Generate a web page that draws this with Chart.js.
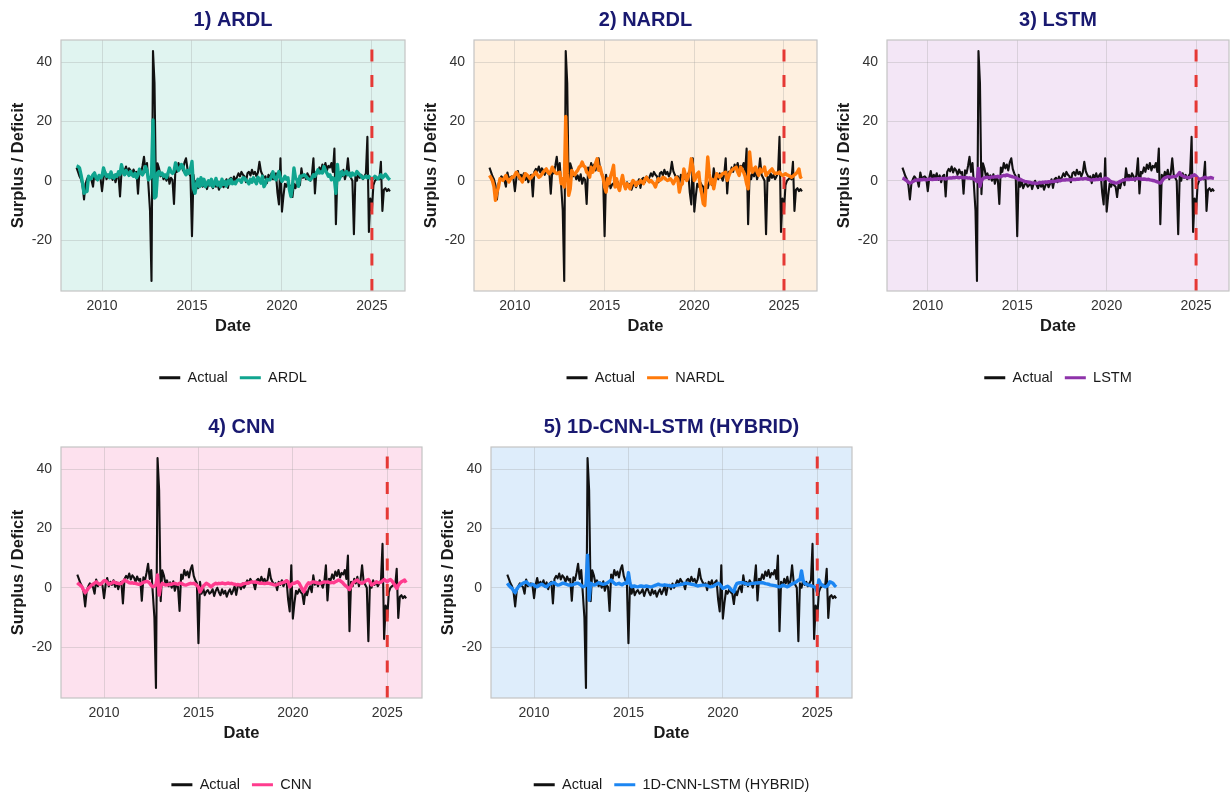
<!DOCTYPE html>
<html>
<head>
<meta charset="utf-8">
<script src="https://cdn.jsdelivr.net/npm/chart.js@4.4.1/dist/chart.umd.min.js"></script>
<style>
  html, body { margin: 0; padding: 0; background: #fff; overflow: hidden; }
  #page { position: relative; width: 1230px; height: 794px; overflow: hidden; }
  #page canvas { position: absolute; }
</style>
</head>
<body>
<div id="page"></div>
<script>
// monthly observations, first one is Jul 2008 (plotted at month end)
const firstYear = 2008
const firstMonth = 7
const cutoffYear = 2025.0

const xTicks = [2010, 2015, 2020, 2025]
const yTicks = [-20, 0, 20, 40]
const xRange = [2007.72, 2026.84]
const yRange = [-37.2, 47.5]

const actual = [
  4.4, 3.0, 1.5, 0.5, -1.5, -6.3,
  -1.0, 0.5, 1.5, 0.8, 0.2, -2.0, 2.8, 0.5, 1.2, 1.5, 0.8, -3.5,
  1.0, 3.3, 0.5, 2.0, 1.0, 2.5, 0.3, 1.8, -0.5, 1.5, 2.0, -5.3,
  3.0, 4.0, 3.2, 4.8, 2.8, 4.2, 3.5, 2.0, 3.8, 2.5, 3.0, -4.4,
  3.5, 2.5, 5.0, 8.1, 3.0, 6.0, -1.9, -10.0, -33.8, 43.8, 33.0, -4.5,
  5.9, 4.2, 1.5, 2.5, 0.5, 1.8, 0.0, 2.2, -1.0, 1.0, 0.3, -7.8,
  4.5, 3.0, 6.0, 4.2, 5.5, 3.5, 6.2, 7.6, 4.0, 2.5, 1.5, -18.7,
  2.0, -2.0, 0.0, -2.5, -1.3, -0.8, -2.0, -1.5, -0.5, -2.8, -1.0, 0.0,
  -1.5, -2.5, -0.5, -2.0, -1.0, -3.0, -1.5, -0.5, -2.2, -1.0, 0.5, -2.4,
  0.5, 1.0, -0.5, 1.4, 0.0, 1.2, 2.5, 1.5, 3.0, 2.0, 1.5, -0.5,
  2.5, 3.0, 1.8, 3.7, 2.2, 3.0, 1.5, 2.8, 6.4, 3.2, 2.0, 1.0,
  1.5, -0.8, 2.0, 1.0, 2.5, 0.5, 1.8, 2.5, -4.0, -8.0, 7.6, -10.4,
  -5.2, -1.0, -2.0, -0.5, -1.5, -2.0, -5.5, -1.0, -2.5, -0.5, 0.5, -1.5,
  4.2, 1.0, 2.0, 0.5, 2.5, 1.5, 0.0, 2.0, 7.6, -4.3, 3.0, 2.5,
  4.5, 3.0, 5.5, 4.0, 6.0, 3.5, 5.0, 4.5, 6.0, 3.0, 10.9, -14.7,
  2.0, 0.5, 3.0, 1.5, 3.7, 0.5, 2.5, 7.6, 2.0, 1.0, 0.0, -18.0,
  1.5, 0.0, 2.5, 1.0, 2.0, 0.5, 1.5, 2.5, 14.8, -17.3, -6.0, -10.0,
  -1.5, 0.0, 0.5, 1.0, 0.5, 6.4, -10.2, -3.0, -2.5, -3.5, -2.8, -3.6
]

const ardl = [
  5.0, 4.8, 4.3, 2.0, -0.8, -4.2,
  -3.8, -3.6, 1.5, 0.5, 1.0, 2.0, 2.6, 1.0, 0.3, 1.8, 1.0, 1.5,
  4.3, 2.5, 1.5, 2.0, 1.0, 3.0, 1.2, 0.9, 2.0, 1.5, 3.0, 2.2,
  5.4, 3.0, 2.0, 3.5, 2.6, 1.8, 3.1, 2.0, 1.5, 2.5, 1.0, 2.0,
  3.9, 2.5, 2.0, 3.0, 4.8, 3.5, 0.3, 0.9, 1.5, 20.5, -5.8, -5.3,
  2.6, 3.1, 2.0, 2.6, 1.5, 2.0, 1.0, 2.5, 4.3, 3.0, 2.5, 3.1,
  6.0, 4.5, 3.5, 4.3, 5.5, 4.8, 3.0, 2.0, 3.5, 2.5, 4.0, 6.5,
  -2.5, -4.2, -1.0, 0.5, -2.0, 1.0, -1.5, 0.5, -2.0, -1.0, 0.0, -1.5,
  0.5, -2.0, -1.0, 0.8, -1.5, -0.5, -2.0, 0.5, -1.2, -0.3, -1.8, 0.0,
  -1.0, 0.5, -1.0, -0.5, -1.0, 0.0, 0.3, 0.3, -0.5, 1.0, 0.9, 0.2,
  -0.2, -1.0, 0.5, -0.5, 1.0, 0.0, -1.0, 1.2, 0.5, -0.8, 1.5, -2.0,
  -1.0, 0.5, 0.3, 0.3, 1.5, 3.0, 1.0, 0.3, 1.5, 3.1, 1.0, -0.2,
  0.5, 1.5, 0.5, 1.0, -3.0, -5.3, -2.0, 4.3, 1.0, 0.3, -1.9, 1.5,
  1.5, 1.8, 2.0, 1.5, 0.9, 0.5, 0.3, 1.0, 2.0, 1.5, 2.5, 3.7,
  2.6, 3.0, 2.6, 4.8, 3.5, 2.6, 1.5, 2.0, 0.3, 1.0, 0.5, -4.2,
  5.5, 0.3, 1.5, 3.1, 2.0, 2.5, 3.1, 2.0, 2.6, 1.5, 2.6, 2.0,
  2.0, 3.1, 2.5, 2.0, 1.5, 0.9, 1.2, 1.5, 1.0, 1.5, 0.9, 0.5,
  0.9, 1.5, 1.0, 0.6, 1.2, 2.0, 1.0, 1.5, 2.2, 1.5, 0.8, 0.3
]

const nardl = [
  1.8, 1.0, 0.0, -2.0, -6.6, -3.8,
  -2.1, 0.7, 0.5, 0.1, 1.0, 1.8, 0.5, -0.4, 0.5, 1.2, 1.2, 2.0,
  2.9, 2.0, 1.2, 0.5, -0.4, 1.0, 2.4, 2.0, 1.5, 0.7, 1.2, 1.8,
  2.2, 2.9, 2.0, 1.2, 1.5, 2.2, 2.9, 3.5, 4.0, 3.0, 2.4, 3.0,
  4.6, 3.5, 2.8, 2.4, 2.6, 2.9, -1.0, 0.7, -2.1, 21.7, 2.4, -4.9,
  -2.7, 3.5, 2.4, 2.0, 2.9, 3.5, 4.6, 5.0, 6.3, 5.0, 4.6, 2.9,
  2.5, 1.2, 4.6, 2.9, 4.0, 6.0, 7.4, 3.5, 4.6, 2.4, 1.0, -2.1,
  -3.8, 0.7, -1.0, 1.5, 3.0, 5.2, -2.1, 0.7, -2.1, -3.3, -0.4, 1.8,
  -1.0, -2.7, -1.0, -1.5, -2.7, -1.0, 0.1, -0.5, -1.6, -0.5, -0.8, 0.1,
  -0.4, -1.0, 0.5, 1.2, 0.3, -0.4, 0.1, -0.5, -1.0, -2.1, -0.5, 0.7,
  0.1, 0.5, 1.2, 1.0, 0.5, 0.1, 0.3, 0.7, 0.0, -1.0, 0.0, 1.2,
  0.5, -3.8, -1.5, -1.0, 4.0, 2.0, 0.1, 1.5, 3.5, 7.4, 4.6, 0.1,
  1.0, 2.4, 2.9, -2.1, -4.4, -7.7, -8.3, 0.1, 8.0, 2.4, -1.0, 0.5,
  -2.7, 0.1, 2.4, 1.8, 1.2, 1.8, 2.4, 2.6, 2.9, 0.1, 1.5, 2.9,
  3.5, 4.0, 4.2, 4.6, 3.0, 1.8, 4.6, 3.8, 2.9, 1.5, -1.0, -2.7,
  9.7, 4.6, 2.9, 4.0, 4.6, 3.0, 1.8, 4.0, 3.0, 3.5, 4.6, 1.8,
  2.5, 2.9, 3.5, 4.0, 3.0, 2.4, 2.6, 2.5, 2.9, 2.2, 1.8, 2.0,
  2.4, 2.0, 1.8, 1.5, 1.2, 1.5, 2.0, 2.4, 3.0, 4.0, 1.2, 1.5
]

const lstm = [
  0.9, 0.7, 0.3, 0.0, -0.5, -0.8,
  -0.6, -0.3, 0.0, 0.2, 0.3, 0.2, 0.4, 0.3, 0.5, 0.4, 0.3, 0.5,
  0.5, 0.6, 0.4, 0.5, 0.6, 0.5, 0.7, 0.6, 0.8, 0.7, 0.8, 0.6,
  0.8, 0.9, 1.0, 0.9, 1.1, 1.0, 1.2, 1.1, 1.0, 1.2, 1.1, 1.0,
  1.0, 1.1, 0.9, 1.0, 0.8, 0.9, 0.6, 0.2, -0.3, 4.2, -1.9, 0.0,
  0.8, 1.0, 1.1, 1.2, 1.0, 1.1, 1.3, 1.2, 1.4, 1.3, 1.5, 1.2,
  1.4, 1.6, 1.8, 1.7, 2.0, 1.8, 1.6, 1.5, 1.3, 1.2, 1.0, 0.8,
  0.3, 0.5, 0.2, 0.0, -0.2, -0.3, -0.4, -0.5, -0.6, -0.8, -0.7, -0.8,
  -0.9, -0.8, -0.6, -0.7, -0.5, -0.6, -0.4, -0.5, -0.3, -0.4, -0.2, -0.3,
  -0.2, -0.1, 0.0, 0.1, 0.0, 0.2, 0.3, 0.2, 0.4, 0.3, 0.4, 0.3,
  0.4, 0.5, 0.4, 0.6, 0.5, 0.6, 0.7, 0.6, 0.7, 0.8, 0.6, 0.5,
  0.3, 0.2, 0.4, 0.3, 0.5, 0.4, 0.5, 0.6, 0.4, 0.5, 0.9, 0.8,
  0.5, 0.0, -0.3, -0.5, -0.6, -0.8, -0.7, -0.5, -0.2, 0.0, 0.2, 0.3,
  0.4, 0.5, 0.4, 0.6, 0.5, 0.5, 0.6, 0.7, 0.8, 0.7, 0.6, 0.5,
  0.6, 0.5, 0.4, 0.5, 0.3, 0.2, 0.1, 0.0, -0.2, -0.4, -0.6, -0.8,
  -0.2, 0.6, 1.0, 1.2, 1.4, 1.3, 1.2, 1.3, 1.4, 1.5, 1.6, 2.2,
  2.8, 2.0, 1.6, 1.4, 1.2, 1.1, 1.0, 1.2, 1.5, 1.8, 2.0, 1.6,
  1.0, 0.6, 0.5, 0.7, 0.9, 1.2, 1.0, 0.9, 1.0, 1.1, 0.9, 0.8
]

const cnn = [
  1.7, 1.2, 0.8, 0.3, -0.8, -1.7,
  -1.0, -0.2, 0.3, 0.9, 1.2, 1.6, 2.0, 1.6, 1.2, 1.2, 1.8, 2.4,
  2.4, 1.8, 1.2, 1.4, 1.6, 2.0, 1.8, 1.5, 1.5, 1.3, 1.5, 2.0,
  2.6, 2.3, 2.0, 1.7, 1.6, 1.7, 1.5, 1.5, 1.3, 1.2, 1.2, 1.5,
  1.8, 2.0, 2.2, 2.0, 1.5, 0.8, 0.3, 0.5, 1.0, 4.3, -2.5, 0.5,
  1.5, 1.2, 0.9, 1.0, 1.1, 1.2, 1.2, 1.4, 1.5, 1.3, 1.2, 1.5,
  1.5, 1.2, 1.0, 0.9, 1.1, 1.3, 1.5, 1.4, 1.5, 1.2, 0.8, 0.3,
  -1.4, -0.5, 0.6, 1.0, 1.5, 1.2, 0.8, 0.3, 0.8, 1.2, 1.5, 1.3,
  1.5, 1.4, 1.6, 1.5, 1.3, 1.5, 1.6, 1.4, 1.5, 1.3, 1.2, 1.0,
  1.1, 1.0, 0.9, 1.2, 1.4, 1.5, 1.5, 1.7, 1.8, 2.0, 1.9, 2.0,
  1.8, 1.7, 1.5, 1.6, 1.5, 1.4, 1.5, 1.6, 1.5, 1.3, 1.2, 1.0,
  0.9, 1.1, 1.3, 1.5, 1.6, 1.8, 2.0, 2.4, 2.0, 0.3, 1.0, 1.5,
  1.5, 1.8, 2.0, 1.5, 0.5, -0.5, -1.4, 0.0, 1.0, 1.7, 1.5, 1.8,
  2.0, 1.9, 1.7, 1.6, 1.5, 1.6, 1.8, 2.0, 1.9, 2.0, 1.8, 1.7,
  1.8, 1.7, 2.0, 2.3, 2.6, 2.4, 2.0, 1.5, 0.9, 0.5, 0.0, -0.6,
  0.5, 1.5, 2.0, 2.4, 2.6, 2.0, 1.7, 1.5, 1.8, 2.2, 2.5, 2.8,
  2.0, 0.9, 1.2, 1.6, 2.0, 1.8, 1.7, 1.9, 2.3, 2.8, 2.4, 2.0,
  2.5, 2.8, 2.3, 1.5, 0.8, -0.2, 0.8, 1.5, 2.0, 2.3, 2.6, 1.7
]

const hybrid = [
  1.5, 0.8, 0.2, -0.2, -1.0, -1.7,
  -0.5, 0.3, 0.8, 1.2, 1.5, 1.8, 2.0, 1.5, 1.0, 0.9, 1.2, 0.9,
  0.5, 0.3, 0.8, 1.0, 1.2, 0.8, 0.5, 0.3, 0.9, 1.2, 1.5, 1.7,
  1.7, 1.2, 0.9, 1.0, 1.2, 1.5, 1.5, 1.3, 1.1, 0.9, 1.0, 0.9,
  1.1, 1.3, 1.5, 1.5, 1.2, 0.8, 0.3, 0.5, 0.8, 11.0, -4.2, 1.5,
  1.2, 0.9, 1.0, 1.4, 1.7, 1.5, 1.3, 1.2, 1.3, 1.5, 1.8, 2.2,
  2.6, 2.0, 1.5, 1.2, 1.3, 1.5, 1.2, 1.0, 1.4, 1.6, 1.5, 5.1,
  1.5, 0.3, 0.5, 0.6, 0.4, 0.3, 0.5, 0.6, 0.5, 0.4, 0.6, 0.5,
  0.4, 0.3, 0.4, 0.6, 0.8, 1.0, 1.2, 1.0, 0.9, 0.8, 1.0, 0.9,
  0.8, 0.7, 0.6, 0.6, 0.7, 0.8, 0.9, 1.0, 1.1, 1.2, 1.3, 1.5,
  1.5, 1.4, 1.3, 1.2, 1.1, 1.0, 0.8, 0.6, 0.7, 0.8, 0.9, 0.9,
  0.9, 0.7, 0.5, 0.3, 0.4, 0.6, 0.9, 1.2, 1.5, 1.2, 0.5, -0.2,
  0.0, 0.3, 0.5, 0.2, -0.5, -1.0, -1.4, 0.5, 1.5, 1.6, 1.7, 1.7,
  1.7, 1.5, 1.3, 1.2, 1.3, 1.4, 1.5, 1.5, 1.6, 1.6, 1.7, 1.7,
  1.7, 1.6, 1.4, 1.3, 1.2, 1.0, 0.9, 0.8, 0.7, 0.6, 0.4, 0.3,
  0.5, 0.9, 0.7, 0.5, 0.3, 0.6, 1.0, 1.3, 1.5, 1.8, 2.1, 2.6,
  2.6, 5.7, 2.5, 1.5, 1.2, 1.0, 0.9, 0.7, 0.5, 0.3, 0.0, -1.4,
  2.6, 1.5, 0.9, 0.6, 0.3, 0.5, 1.0, 2.0, 1.8, 1.5, 0.8, 0.3
]

const panels = [
  { title: '1) ARDL', name: 'ARDL', values: ardl, color: '#10A58F', bg: '#E0F4F0', left: 0, top: 0, plotW: 344 },
  { title: '2) NARDL', name: 'NARDL', values: nardl, color: '#FF7A0A', bg: '#FEF0E0', left: 413, top: 0, plotW: 343 },
  { title: '3) LSTM', name: 'LSTM', values: lstm, color: '#8E33AA', bg: '#F3E6F6', left: 826, top: 0, plotW: 342 },
  { title: '4) CNN', name: 'CNN', values: cnn, color: '#FF3C8E', bg: '#FDE1EE', left: 0, top: 407, plotW: 361 },
  { title: '5) 1D-CNN-LSTM (HYBRID)', name: '1D-CNN-LSTM (HYBRID)', values: hybrid, color: '#1C86F2', bg: '#DEEDFB', left: 430, top: 407, plotW: 361 }
]

const AXIS_W = 61
const XAXIS_H = 67.5
const CANVAS_H = 395
const textDark = '#1a1a1a'
const tickGrey = '#333333'
const gridCol = 'rgba(150,150,150,0.28)'

Chart.defaults.font.family = "'Liberation Sans', Arial, Helvetica, sans-serif"

function toPoints(vals) {
  return vals.map((v, i) => ({ x: firstYear + (firstMonth + i) / 12, y: v }))
}

// tinted panel background + thin grey frame around the plotting area
const panelBox = {
  id: 'panelBox',
  beforeDraw(chart, args, opts) {
    const { ctx, chartArea: a } = chart
    ctx.save()
    ctx.fillStyle = opts.fill
    ctx.fillRect(a.left, a.top, a.right - a.left, a.bottom - a.top)
    ctx.restore()
  },
  afterDraw(chart) {
    const { ctx, chartArea: a } = chart
    ctx.save()
    ctx.strokeStyle = '#c4c4c4'
    ctx.lineWidth = 1.2
    ctx.strokeRect(a.left, a.top, a.right - a.left, a.bottom - a.top)
    ctx.restore()
  }
}

const page = document.getElementById('page')

panels.forEach(function (p) {
  const canvas = document.createElement('canvas')
  canvas.width = p.plotW + 2 * AXIS_W
  canvas.height = CANVAS_H
  canvas.style.left = p.left + 'px'
  canvas.style.top = p.top + 'px'
  page.appendChild(canvas)

  new Chart(canvas, {
    type: 'line',
    plugins: [panelBox],
    data: {
      datasets: [{
        label: 'Actual',
        data: toPoints(actual),
        borderColor: '#111111',
        backgroundColor: '#111111',
        borderWidth: 2.1,
        borderJoinStyle: 'round',
        pointRadius: 0,
        order: 3
      }, {
        label: p.name,
        data: toPoints(p.values),
        borderColor: p.color,
        backgroundColor: p.color,
        borderWidth: 3.4,
        borderJoinStyle: 'round',
        pointRadius: 0,
        order: 2
      }, {
        label: 'cutoff',
        data: [{ x: cutoffYear, y: yRange[0] }, { x: cutoffYear, y: yRange[1] }],
        borderColor: '#E53935',
        borderWidth: 3,
        borderDash: [12, 13.5],
        pointRadius: 0,
        order: 1
      }]
    },
    options: {
      responsive: false,
      animation: false,
      devicePixelRatio: 1,
      layout: { padding: 0 },
      plugins: {
        panelBox: { fill: p.bg },
        tooltip: { enabled: false },
        title: {
          display: true,
          text: p.title,
          color: '#191970',
          font: { size: 20, weight: 'bold' },
          padding: { top: 8.3, bottom: 7.7 }
        },
        legend: {
          position: 'bottom',
          labels: {
            usePointStyle: true,
            pointStyle: 'line',
            pointStyleWidth: 21,
            padding: 12,
            color: textDark,
            font: { size: 14.5 },
            generateLabels: chart => Chart.defaults.plugins.legend.labels.generateLabels(chart)
              .filter(it => it.datasetIndex < 2)
              .sort((a, b) => a.datasetIndex - b.datasetIndex)
              .map(it => Object.assign(it, { lineWidth: 3.2 }))
          }
        }
      },
      scales: {
        x: {
          type: 'linear',
          min: xRange[0],
          max: xRange[1],
          afterBuildTicks: s => { s.ticks = xTicks.map(v => ({ value: v })) },
          afterFit: s => { s.height = XAXIS_H },
          grid: { color: gridCol, drawTicks: false },
          border: { display: false },
          ticks: { padding: 7, color: tickGrey, font: { size: 14 }, maxRotation: 0, callback: v => String(v) },
          title: { display: true, text: 'Date', color: textDark, font: { size: 16.5, weight: 'bold' }, padding: { top: 0, bottom: 21.9 } }
        },
        y: {
          min: yRange[0],
          max: yRange[1],
          afterBuildTicks: s => { s.ticks = yTicks.map(v => ({ value: v })) },
          afterFit: s => { s.width = AXIS_W },
          grid: { color: gridCol, drawTicks: false },
          border: { display: false },
          ticks: { padding: 9, color: tickGrey, font: { size: 14 } },
          title: { display: true, text: 'Surplus / Deficit', color: textDark, font: { size: 16.5, weight: 'bold' }, padding: { top: 9, bottom: 0 } }
        },
        yr: {
          position: 'right',
          afterFit: s => { s.width = AXIS_W },
          grid: { display: false },
          border: { display: false },
          ticks: { display: false }
        }
      }
    }
  })
})
</script>
</body>
</html>
